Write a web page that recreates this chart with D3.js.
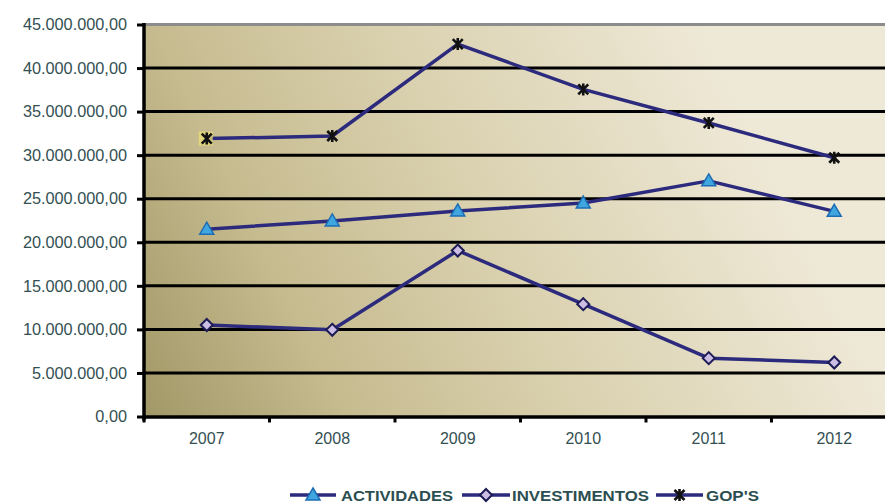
<!DOCTYPE html>
<html><head><meta charset="utf-8">
<script src="https://cdn.jsdelivr.net/npm/d3@7"></script>
<style>html,body{margin:0;padding:0;background:#fff;}svg{display:block;font-family:"Liberation Sans",Arial,sans-serif;}</style>
</head><body>
<svg id="c" width="885" height="503"></svg>
<script>
const years = ["2007","2008","2009","2010","2011","2012"];
const actividades = [21.5e6, 22.45e6, 23.6e6, 24.5e6, 27.05e6, 23.55e6];
const investimentos = [10.5e6, 9.95e6, 19.05e6, 12.9e6, 6.7e6, 6.2e6];
const gops = [31.9e6, 32.2e6, 42.75e6, 37.55e6, 33.7e6, 29.7e6];
const yTicks = [0,5e6,10e6,15e6,20e6,25e6,30e6,35e6,40e6,45e6];
const seriesNames = ["ACTIVIDADES","INVESTIMENTOS","GOP'S"];

const svg = d3.select("#c");
const L = 144, R = 897, T = 24.5, B = 416.5;
const x = d3.scaleBand().domain(years).range([L, R]).padding(0);
const y = d3.scaleLinear().domain([0,45e6]).range([B, T]);
const txt = "#344f52";

const defs = svg.append("defs");
const g = defs.append("linearGradient").attr("id","bg").attr("gradientUnits","userSpaceOnUse")
  .attr("x1",L).attr("y1",B).attr("x2",L+600).attr("y2",B-300);
g.append("stop").attr("offset",0).attr("stop-color","#a29766");
g.append("stop").attr("offset",0.27).attr("stop-color","#c6bb8f");
g.append("stop").attr("offset",0.6).attr("stop-color","#dbd2b1");
g.append("stop").attr("offset",1).attr("stop-color","#eee8d6");

svg.append("rect").attr("x",L).attr("y",T).attr("width",R-L).attr("height",B-T).attr("fill","url(#bg)");

// gridlines
svg.append("g").selectAll("line").data(yTicks.filter(d=>d>0 && d<45e6)).join("line")
  .attr("x1",L).attr("x2",R).attr("y1",d=>y(d)).attr("y2",d=>y(d))
  .attr("stroke","#000").attr("stroke-width",3);
svg.append("line").attr("x1",L).attr("x2",R).attr("y1",y(45e6)).attr("y2",y(45e6))
  .attr("stroke","#8c8c8c").attr("stroke-width",3);

// y axis
const fmt = d => d3.format(",.2f")(d).replace(/,/g,"#").replace(".",",").replace(/#/g,".");
const ya = svg.append("g").attr("transform",`translate(${L},0)`)
  .call(d3.axisLeft(y).tickValues(yTicks).tickSize(7).tickPadding(10).tickFormat(fmt));
ya.select(".domain").attr("stroke","#000").attr("stroke-width",3.5).attr("d",`M0,${B+4}V${T-1.5}`);
ya.selectAll(".tick line").attr("stroke","#000").attr("stroke-width",3);
ya.selectAll(".tick text").attr("fill",txt).attr("font-size","16.3px").attr("font-family","Liberation Sans, Arial, sans-serif");

// x axis
const xa = svg.append("g").attr("transform",`translate(0,${B})`)
  .call(d3.axisBottom(x).tickSize(0).tickPadding(16));
xa.select(".domain").attr("stroke","#000").attr("stroke-width",3.5);
xa.selectAll(".tick text").attr("fill",txt).attr("font-size","16px").attr("font-family","Liberation Sans, Arial, sans-serif");
svg.append("g").selectAll("line").data(years).join("line")
  .attr("x1",d=>x(d)).attr("x2",d=>x(d)).attr("y1",B).attr("y2",B+6)
  .attr("stroke","#000").attr("stroke-width",3);

const lineColor = "#2b2a7c";
const line = d3.line().x((d,i)=>x(years[i])+x.bandwidth()/2).y(d=>y(d));
const data = [actividades, investimentos, gops];
data.forEach(s=>{
  svg.append("path").datum(s).attr("d",line).attr("fill","none")
    .attr("stroke",lineColor).attr("stroke-width",3.5).attr("stroke-linejoin","round");
});

function tri(sel, cx, cy){
  sel.append("path").attr("d",`M${cx},${cy-7}L${cx+7},${cy+5}L${cx-7},${cy+5}Z`)
    .attr("fill","#3fa6e0").attr("stroke","#1d6db4").attr("stroke-width",1.5);
}
function dia(sel, cx, cy){
  sel.append("path").attr("d",`M${cx},${cy-6}L${cx+6},${cy}L${cx},${cy+6}L${cx-6},${cy}Z`)
    .attr("fill","#cbbde3").attr("stroke","#1d1b55").attr("stroke-width",2);
}
function star(sel, cx, cy){
  sel.append("path").attr("d",`M${cx-5},${cy-5}L${cx+5},${cy+5}M${cx+5},${cy-5}L${cx-5},${cy+5}M${cx},${cy-6}L${cx},${cy+6}`)
    .attr("fill","none").attr("stroke","#111").attr("stroke-width",2.6);
}
const mk = svg.append("g");
actividades.forEach((v,i)=>tri(mk, x(years[i])+x.bandwidth()/2, y(v)));
investimentos.forEach((v,i)=>dia(mk, x(years[i])+x.bandwidth()/2, y(v)));
gops.forEach((v,i)=>{
  const cx = x(years[i])+x.bandwidth()/2, cy = y(v);
  if(i===0) mk.append("rect").attr("x",cx-8).attr("y",cy-7).attr("width",14).attr("height",14).attr("fill","#e8dc7a").attr("opacity",0.8);
  star(mk, cx, cy);
});

// legend
const lg = svg.append("g");
const items = [
  {name:seriesNames[0], x0:290, x1:336, tx:341, tw:112, m:tri},
  {name:seriesNames[1], x0:462, x1:510, tx:512, tw:137, m:dia},
  {name:seriesNames[2], x0:656, x1:703, tx:706, tw:53, m:star}
];
const ly = 495;
items.forEach(it=>{
  lg.append("line").attr("x1",it.x0).attr("x2",it.x1).attr("y1",ly).attr("y2",ly)
    .attr("stroke",lineColor).attr("stroke-width",3.5);
  it.m(lg,(it.x0+it.x1)/2, ly);
  lg.append("text").attr("x",it.tx).attr("y",ly+5.5).text(it.name)
    .attr("fill","#2c4e50").attr("font-weight","bold").attr("font-size","15.5px")
    .attr("textLength",it.tw).attr("lengthAdjust","spacingAndGlyphs");
});
</script>
</body></html>
